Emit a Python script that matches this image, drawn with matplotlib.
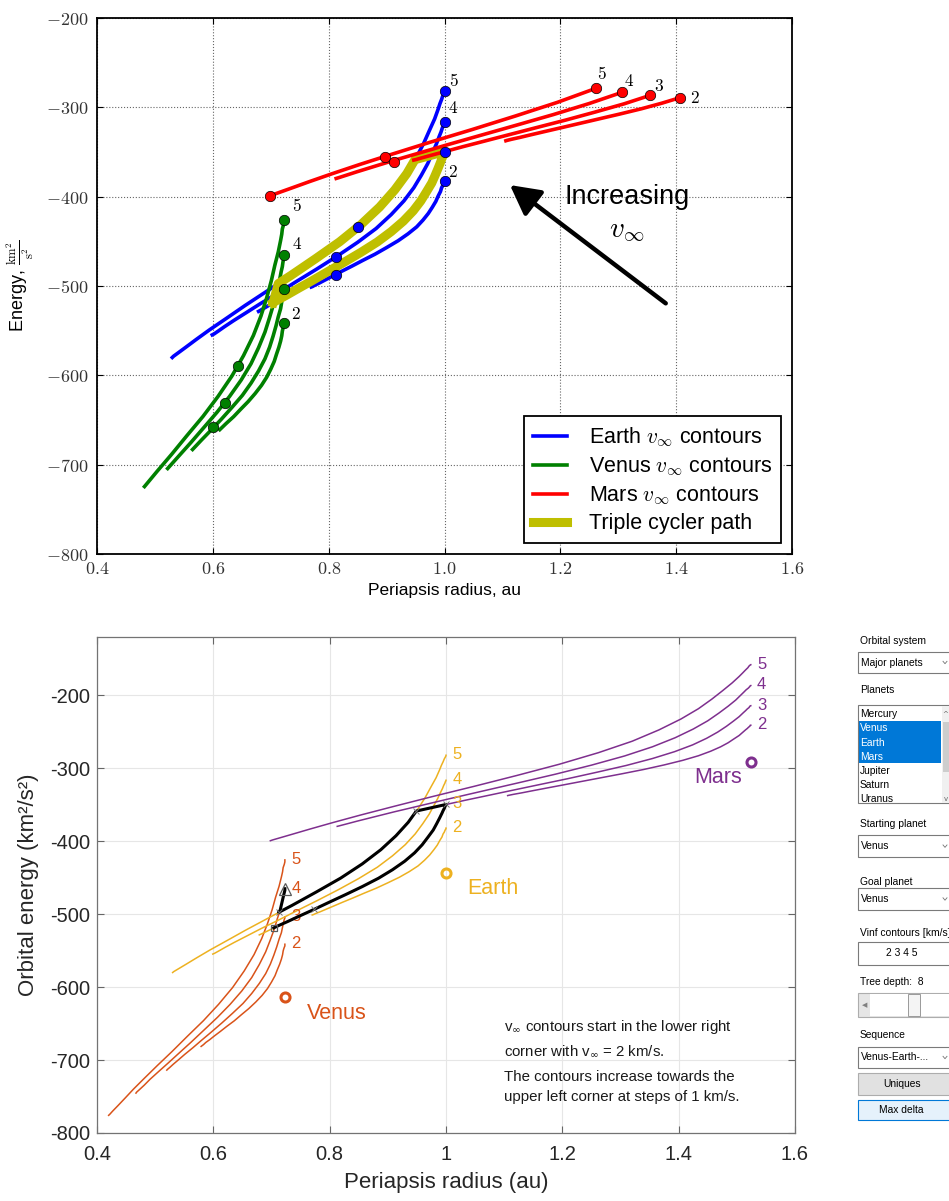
#!/usr/bin/env python
import sys
import matplotlib
matplotlib.use('Agg')
import matplotlib.pyplot as plt
from matplotlib.patches import Rectangle
from matplotlib.ticker import FixedLocator, FuncFormatter
from matplotlib.font_manager import FontProperties

plt.rcParams['mathtext.fontset'] = 'cm'

# v_inf contour levels (km/s); each contour is listed from the
# tangential flyby end (planet orbit radius) to the retrograde end.
vinf_levels = [2, 3, 4, 5]

venus_rp = [
    [0.723, 0.723, 0.723, 0.723, 0.722, 0.721, 0.720, 0.719, 0.717, 0.714, 0.710, 0.706, 0.700, 0.693,
     0.684, 0.673, 0.661, 0.648, 0.636, 0.623, 0.612, 0.602, 0.594, 0.587, 0.583, 0.580, 0.579],
    [0.723, 0.723, 0.723, 0.722, 0.721, 0.720, 0.719, 0.717, 0.713, 0.709, 0.704, 0.698, 0.690, 0.679,
     0.666, 0.651, 0.633, 0.615, 0.597, 0.580, 0.565, 0.551, 0.540, 0.531, 0.525, 0.521, 0.520],
    [0.723, 0.723, 0.723, 0.722, 0.721, 0.720, 0.718, 0.715, 0.710, 0.705, 0.698, 0.690, 0.679, 0.666,
     0.649, 0.629, 0.607, 0.584, 0.562, 0.541, 0.522, 0.505, 0.491, 0.481, 0.473, 0.468, 0.467],
    [0.723, 0.723, 0.723, 0.722, 0.720, 0.719, 0.717, 0.713, 0.707, 0.701, 0.693, 0.683, 0.670, 0.653,
     0.633, 0.609, 0.583, 0.555, 0.529, 0.504, 0.482, 0.463, 0.448, 0.436, 0.427, 0.422, 0.420],
]
venus_E = [
    [-541.2, -541.5, -542.2, -543.6, -545.4, -547.7, -550.6, -555.7, -561.7, -568.6, -576.2, -584.4, -593.1, -602.1,
     -611.2, -620.4, -629.4, -638.0, -646.2, -653.9, -660.8, -666.8, -671.9, -675.9, -678.9, -680.7, -681.3],
    [-503.7, -504.1, -505.3, -507.2, -510.0, -513.5, -517.7, -525.4, -534.4, -544.8, -556.2, -568.5, -581.5, -595.0,
     -608.7, -622.4, -635.9, -648.9, -661.3, -672.7, -683.0, -692.1, -699.7, -705.8, -710.2, -712.9, -713.8],
    [-465.1, -465.7, -467.3, -469.9, -473.6, -478.3, -483.9, -494.1, -506.2, -519.9, -535.2, -551.6, -569.0, -586.9,
     -605.2, -623.5, -641.5, -658.8, -675.3, -690.5, -704.3, -716.4, -726.5, -734.6, -740.5, -744.1, -745.3],
    [-425.6, -426.3, -428.3, -431.6, -436.2, -442.0, -449.1, -461.8, -476.9, -494.1, -513.2, -533.7, -555.4, -577.9,
     -600.7, -623.6, -646.0, -667.7, -688.3, -707.3, -724.5, -739.6, -752.4, -762.5, -769.9, -774.3, -775.8],
]
earth_rp = [
    [1.000, 1.000, 1.000, 0.999, 0.998, 0.997, 0.995, 0.993, 0.989, 0.985, 0.979, 0.972, 0.963, 0.952,
     0.937, 0.920, 0.900, 0.880, 0.859, 0.840, 0.822, 0.807, 0.794, 0.784, 0.776, 0.772, 0.770],
    [1.000, 1.000, 0.999, 0.998, 0.997, 0.995, 0.993, 0.989, 0.984, 0.978, 0.969, 0.959, 0.946, 0.929,
     0.908, 0.884, 0.856, 0.827, 0.799, 0.773, 0.749, 0.728, 0.710, 0.697, 0.687, 0.681, 0.679],
    [1.000, 1.000, 0.999, 0.998, 0.996, 0.994, 0.991, 0.986, 0.979, 0.971, 0.960, 0.947, 0.930, 0.908,
     0.882, 0.850, 0.815, 0.779, 0.744, 0.712, 0.682, 0.657, 0.636, 0.620, 0.609, 0.602, 0.599],
    [1.000, 1.000, 0.999, 0.997, 0.995, 0.992, 0.989, 0.983, 0.974, 0.964, 0.951, 0.935, 0.914, 0.888,
     0.856, 0.819, 0.777, 0.735, 0.694, 0.656, 0.623, 0.594, 0.571, 0.553, 0.540, 0.532, 0.530],
]
earth_E = [
    [-382.0, -382.2, -382.9, -384.0, -385.6, -387.6, -390.0, -394.3, -399.4, -405.3, -411.8, -418.8, -426.1, -433.8,
     -441.6, -449.3, -457.0, -464.4, -471.3, -477.8, -483.7, -488.8, -493.2, -496.6, -499.1, -500.6, -501.1],
    [-349.7, -350.1, -351.1, -352.8, -355.1, -358.1, -361.7, -368.2, -375.9, -384.7, -394.4, -404.9, -415.9, -427.4,
     -439.1, -450.7, -462.2, -473.3, -483.7, -493.5, -502.2, -510.0, -516.4, -521.6, -525.4, -527.7, -528.4],
    [-316.4, -316.9, -318.2, -320.5, -323.6, -327.6, -332.4, -341.0, -351.3, -363.0, -376.0, -390.0, -404.7, -420.0,
     -435.6, -451.1, -466.4, -481.2, -495.1, -508.1, -519.8, -530.1, -538.7, -545.6, -550.6, -553.7, -554.7],
    [-282.1, -282.7, -284.4, -287.2, -291.1, -296.1, -302.1, -312.9, -325.8, -340.4, -356.6, -374.1, -392.5, -411.6,
     -431.1, -450.5, -469.6, -488.1, -505.5, -521.7, -536.4, -549.2, -560.0, -568.7, -574.9, -578.7, -580.0],
]
mars_rp = [
    [1.524, 1.523, 1.523, 1.522, 1.520, 1.518, 1.515, 1.510, 1.504, 1.495, 1.485, 1.472, 1.455, 1.434,
     1.407, 1.375, 1.340, 1.302, 1.265, 1.230, 1.199, 1.171, 1.148, 1.130, 1.116, 1.108, 1.106],
    [1.524, 1.523, 1.522, 1.521, 1.518, 1.515, 1.511, 1.504, 1.494, 1.482, 1.467, 1.448, 1.424, 1.393,
     1.355, 1.310, 1.260, 1.209, 1.158, 1.111, 1.069, 1.032, 1.002, 0.978, 0.961, 0.951, 0.947],
    [1.524, 1.523, 1.522, 1.520, 1.516, 1.512, 1.507, 1.498, 1.485, 1.469, 1.450, 1.425, 1.394, 1.355,
     1.307, 1.250, 1.188, 1.124, 1.062, 1.005, 0.955, 0.911, 0.876, 0.848, 0.829, 0.817, 0.813],
    [1.524, 1.523, 1.521, 1.519, 1.515, 1.510, 1.504, 1.492, 1.476, 1.457, 1.434, 1.404, 1.366, 1.320,
     1.262, 1.195, 1.122, 1.048, 0.976, 0.911, 0.854, 0.806, 0.767, 0.737, 0.715, 0.702, 0.698],
]
mars_E = [
    [-240.9, -241.0, -241.6, -242.5, -243.8, -245.4, -247.3, -250.8, -255.0, -259.7, -265.0, -270.6, -276.6, -282.8,
     -289.1, -295.4, -301.6, -307.6, -313.2, -318.5, -323.2, -327.4, -330.9, -333.7, -335.7, -337.0, -337.4],
    [-214.2, -214.5, -215.3, -216.7, -218.6, -221.0, -223.9, -229.2, -235.4, -242.5, -250.4, -258.9, -267.9, -277.2,
     -286.6, -296.1, -305.3, -314.3, -322.8, -330.7, -337.8, -344.0, -349.3, -353.5, -356.5, -358.4, -359.0],
    [-186.6, -187.0, -188.1, -189.9, -192.4, -195.6, -199.5, -206.5, -214.9, -224.4, -234.9, -246.2, -258.1, -270.5,
     -283.1, -295.7, -308.1, -320.0, -331.4, -341.9, -351.4, -359.7, -366.7, -372.3, -376.3, -378.8, -379.6],
    [-158.0, -158.4, -159.8, -162.1, -165.2, -169.3, -174.1, -182.9, -193.3, -205.2, -218.3, -232.4, -247.4, -262.9,
     -278.6, -294.4, -309.8, -324.8, -338.9, -352.1, -363.9, -374.3, -383.1, -390.1, -395.2, -398.2, -399.3],
]
top_venus_n = 21        # upper plot shows venus contours only up to here
top_mars_first = 14     # ... and mars contours only from here on

# triple cycler: Venus leg, Earth (5 km/s), Mars (3 km/s), Earth (3 km/s)
venus_leg_rp = [0.723, 0.723, 0.721, 0.718, 0.715, 0.713]
venus_leg_E = [-465.1, -467.3, -473.6, -483.9, -494.1, -497.3]
cycle_rp = [0.713, 0.735, 0.777, 0.819, 0.856, 0.888, 0.914, 0.935, 0.949,
            0.961, 0.978, 1.000,
            1.000, 0.999, 0.998, 0.997, 0.995, 0.993, 0.989, 0.984, 0.978, 0.969, 0.959,
            0.946, 0.929, 0.908, 0.884, 0.856, 0.827, 0.799, 0.773, 0.749, 0.728, 0.710, 0.704]
cycle_E = [-497.3, -488.1, -469.6, -450.5, -431.1, -411.6, -392.5, -374.1, -358.6,
           -356.5, -353.5, -349.6,
           -350.1, -351.1, -352.8, -355.1, -358.1, -361.7, -368.2, -375.9, -384.7, -394.4, -404.9,
           -415.9, -427.4, -439.1, -450.7, -462.2, -473.3, -483.7, -493.5, -502.2, -510.0, -516.4, -518.7]
junction_rp = [0.713, 0.949, 1.000, 0.773]
junction_E = [-497.3, -358.6, -349.6, -493.5]

# extra markers in the upper plot
earth_dot_rp = [0.813, 0.813, 0.851]
earth_dot_E = [-467.2, -487.7, -433.6]
venus_dot_rp = [0.644, 0.621, 0.601]
venus_dot_E = [-589.2, -631.4, -657.5]
mars_dot_rp = [0.898, 0.913]
mars_dot_E = [-355.2, -360.8]

planet_names = ['Venus', 'Earth', 'Mars']
planet_rp = [0.723, 1.0, 1.524]
planet_E = [-613.2, -443.6, -291.1]

note_lines = [r'v$_{\infty}$ contours start in the lower right',
              r'corner with v$_{\infty}$ = 2 km/s.',
              'The contours increase towards the',
              'upper left corner at steps of 1 km/s.']

W, H = 949, 1201
SANS = 'Liberation Sans'


def box(l, t, r, b):
    """pixel box (left, top, right, bottom) -> figure fraction"""
    return [l / W, 1 - b / H, (r - l) / W, (b - t) / H]


def draw_top(fig):
    ax = fig.add_axes(box(97, 18, 792, 554))
    blue, green, red, olive = (0, 0, 1), (0, 0.5, 0), (1, 0, 0), (0.75, 0.75, 0)
    lw = 2.6
    for i in range(4):
        h_e, = ax.plot(earth_rp[i], earth_E[i], color=blue, lw=lw, zorder=2)
        h_v, = ax.plot(venus_rp[i][:top_venus_n], venus_E[i][:top_venus_n],
                       color=green, lw=lw, zorder=2)
    h_c, = ax.plot([cycle_rp[-1]] + cycle_rp, [cycle_E[-1]] + cycle_E,
                   color=olive, lw=6.5, zorder=3)
    for i in range(4):
        h_m, = ax.plot(mars_rp[i][top_mars_first:], mars_E[i][top_mars_first:],
                       color=red, lw=lw, zorder=4)

    dot = dict(ls='none', marker='o', ms=7.5, mec='k', mew=0.5, zorder=5)
    ax.plot([r[0] for r in earth_rp] + earth_dot_rp,
            [e[0] for e in earth_E] + earth_dot_E, color=blue, **dot)
    ax.plot([r[0] for r in venus_rp] + venus_dot_rp,
            [e[0] for e in venus_E] + venus_dot_E, color=green, **dot)
    ax.plot([r[top_mars_first] for r in mars_rp] + [mars_rp[3][-1]] + mars_dot_rp,
            [e[top_mars_first] for e in mars_E] + [mars_E[3][-1]] + mars_dot_E,
            color=red, **dot)

    # contour level labels
    offs_e = {2: (5.8, 6.4), 4: (6.5, 10), 5: (6.7, 7.4)}
    offs_v = {2: (8.6, 6), 4: (9.1, 7.7), 5: (9.1, 9.6)}
    offs_m = {2: (10.6, 0), 3: (6.5, 6.8), 4: (5, 8), 5: (4.3, 10.2)}
    for i, v in enumerate(vinf_levels):
        for offs, xs, ys, k in [(offs_e, earth_rp, earth_E, 0),
                                (offs_v, venus_rp, venus_E, 0),
                                (offs_m, mars_rp, mars_E, top_mars_first)]:
            if v in offs:
                ax.annotate('$%d$' % v, (xs[i][k], ys[i][k]), xytext=offs[v],
                            textcoords='offset points', ha='center',
                            va='center', fontsize=12.5, zorder=6)

    ax.annotate('', xy=(1.113, -387), xytext=(1.382, -519.4),
                arrowprops=dict(arrowstyle='-|>,head_length=0.45,head_width=0.24',
                                lw=3.2, color='k', mutation_scale=40,
                                shrinkA=0, shrinkB=0))
    ax.text(1.3145, -400, 'Increasing', fontsize=19.5, family=SANS,
            ha='center', va='center')
    ax.text(1.3145, -437, r'$v_\infty$', fontsize=21, ha='center', va='center')

    ax.set_xlim(0.4, 1.6)
    ax.set_ylim(-800, -200)
    ax.xaxis.set_major_locator(FixedLocator([0.4, 0.6, 0.8, 1.0, 1.2, 1.4, 1.6]))
    ax.yaxis.set_major_locator(FixedLocator(range(-800, -199, 100)))
    ax.xaxis.set_major_formatter(FuncFormatter(lambda v, p: '$%.1f$' % v))
    ax.yaxis.set_major_formatter(FuncFormatter(lambda v, p: '$%d$' % v))
    ax.tick_params(direction='in', top=True, right=True, length=4.5, width=0.8,
                   labelsize=13, labelcolor='0.2')
    ax.tick_params(axis='y', pad=6.5)
    ax.tick_params(axis='x', pad=4)
    ax.grid(True, ls=':', color='0.4', lw=0.8)
    for s in ax.spines.values():
        s.set_linewidth(1.3)

    ax.set_xlabel('Periapsis radius, au', family=SANS, fontsize=12.5)
    ax.xaxis.set_label_coords(0.5, -0.055)
    ax.set_ylabel(r'Energy, $\frac{\mathrm{km}^2}{\mathrm{s}^2}$', family=SANS,
                  fontsize=13)
    ax.yaxis.set_label_coords(-0.088, 0.5)

    leg = ax.legend([h_e, h_v, h_m, h_c],
                    [r'Earth $v_\infty$ contours', r'Venus $v_\infty$ contours',
                     r'Mars $v_\infty$ contours', 'Triple cycler path'],
                    loc='lower right', bbox_to_anchor=(0.984, 0.0205),
                    borderaxespad=0, fancybox=False, framealpha=1,
                    edgecolor='k', prop=FontProperties(family=SANS, size=15.5),
                    handlelength=1.6, handletextpad=1.0, labelspacing=0.3,
                    borderpad=0.4)
    leg.get_frame().set_linewidth(1.3)
    leg.set_zorder(10)


def draw_bottom(fig):
    ax = fig.add_axes(box(97, 637, 795, 1133))
    venus_c, earth_c, mars_c = '#D95319', '#EDB120', '#7E2F8E'
    colors = [venus_c, earth_c, mars_c]
    curves = [(venus_rp, venus_E), (earth_rp, earth_E), (mars_rp, mars_E)]
    for (xs, ys), c in zip(curves, colors):
        for i, v in enumerate(vinf_levels):
            ax.plot(xs[i], ys[i], color=c, lw=1.1, zorder=2)
            ax.annotate(str(v), (xs[i][0], ys[i][0]), xytext=(4.5, 0.5),
                        textcoords='offset points', ha='left', va='center',
                        color=c, fontsize=12, family=SANS)

    ax.plot(venus_leg_rp, venus_leg_E, color='k', lw=2.2, zorder=3)
    ax.plot(cycle_rp, cycle_E, color='k', lw=2.2, zorder=3)
    ax.plot(venus_leg_rp[:1], venus_leg_E[:1], ls='none', marker='^', ms=8,
            mfc='none', mec='0.35', mew=0.9, zorder=4)
    ax.plot(cycle_rp[-1:], cycle_E[-1:], ls='none', marker='s', ms=5,
            mfc='none', mec='0.35', mew=0.9, zorder=4)
    ax.plot(junction_rp, junction_E, ls='none', marker='x', ms=4,
            mec='0.45', mew=0.7, zorder=4)

    name_offs = [(15.7, -12.2, 'left'), (15.1, -11.4, 'left'), (-6.3, -11.5, 'right')]
    for name, x, y, c, (dx, dy, ha) in zip(planet_names, planet_rp, planet_E,
                                           colors, name_offs):
        ax.plot([x], [y], ls='none', marker='o', ms=6.5, mfc='none', mec=c,
                mew=2.2, zorder=4)
        ax.annotate(name, (x, y), xytext=(dx, dy), textcoords='offset points',
                    ha=ha, va='center', color=c, fontsize=15.5, family=SANS)

    for line, y in zip(note_lines, [-654.2, -688.5, -722.8, -750.2]):
        ax.text(1.100, y, line, fontsize=10.8, family=SANS, color='0.1',
                va='center', ha='left', math_fontfamily='dejavusans')

    ax.set_xlim(0.4, 1.6)
    ax.set_ylim(-800, -120)
    ax.xaxis.set_major_locator(FixedLocator([0.4, 0.6, 0.8, 1.0, 1.2, 1.4, 1.6]))
    ax.yaxis.set_major_locator(FixedLocator(range(-800, -199, 100)))
    ax.xaxis.set_major_formatter(FuncFormatter(lambda v, p: '%g' % round(v, 1)))
    ax.yaxis.set_major_formatter(FuncFormatter(lambda v, p: '%d' % v))
    ax.tick_params(direction='in', top=True, right=True, length=5, width=0.8,
                   color='0.4', labelsize=14.5, labelcolor='0.15')
    for lbl in ax.get_xticklabels() + ax.get_yticklabels():
        lbl.set_family(SANS)
    ax.tick_params(axis='x', pad=9)
    ax.tick_params(axis='y', pad=5)
    ax.grid(True, color='0.9', lw=0.8)
    ax.set_axisbelow(True)
    for s in ax.spines.values():
        s.set_color('0.45')
        s.set_linewidth(0.9)

    ax.set_xlabel('Periapsis radius (au)', family=SANS, fontsize=16, color='0.15')
    ax.xaxis.set_label_coords(0.5, -0.078)
    ax.set_ylabel('Orbital energy (km²/s²)', family=SANS, fontsize=16, color='0.15')
    ax.yaxis.set_label_coords(-0.083, 0.5)


def draw_panel(fig):
    # the GUI controls next to the lower plot, in pixel units
    gx = fig.add_axes(box(850, 620, 949, 1130))
    gx.set_xlim(850, 949)
    gx.set_ylim(1130, 620)
    gx.axis('off')
    txt = dict(family=SANS, fontsize=7.4, va='center', color='k')
    edge = '#7a7a7a'

    def field(top, bottom, label, fc='white', ec=edge, chevron=True, center=False):
        gx.add_patch(Rectangle((858.5, top), 100, bottom - top, fc=fc, ec=ec, lw=0.8))
        ym = (top + bottom) / 2
        if center:
            gx.text(901.7, ym, label, ha='center', **txt)
        else:
            gx.text(861, ym, label, ha='left', **txt)
        if chevron:
            gx.plot([943, 945, 947], [ym - 1.2, ym + 1.2, ym - 1.2], color='0.45', lw=0.6)

    gx.text(860, 641, 'Orbital system', **txt)
    field(651.7, 673.3, 'Major planets')

    gx.text(860, 690, 'Planets', **txt)
    gx.add_patch(Rectangle((858.5, 705), 100, 98.3, fc='white', ec=edge, lw=0.8))
    gx.add_patch(Rectangle((859, 720.7), 82.5, 42.6, fc='#0078D7', ec='none'))
    gx.add_patch(Rectangle((941.7, 705.5), 8, 97.5, fc='#f0f0f0', ec='none'))
    gx.add_patch(Rectangle((942.6, 721.7), 6.5, 50, fc='#cdcdcd', ec='none'))
    gx.text(945.5, 714, '^', ha='center', family='DejaVu Sans', fontsize=5, va='center', color='0.4')
    gx.text(945.5, 799, 'v', ha='center', family='DejaVu Sans', fontsize=5, va='center', color='0.4')
    items = ['Mercury', 'Venus', 'Earth', 'Mars', 'Jupiter', 'Saturn', 'Uranus']
    for k, it in enumerate(items):
        c = 'white' if it in ('Venus', 'Earth', 'Mars') else 'k'
        gx.text(860, 714.3 + 14.1 * k, it, family=SANS, fontsize=7.4, va='center', color=c)

    gx.text(860, 824, 'Starting planet', **txt)
    field(835, 857.3, 'Venus')
    gx.text(860, 882, 'Goal planet', **txt)
    field(888, 910, 'Venus')
    gx.text(860, 933.3, 'Vinf contours [km/s]', **txt)
    field(941.7, 965, '2 3 4 5', chevron=False, center=True)
    gx.text(860, 981.7, 'Tree depth:  8', **txt)
    gx.add_patch(Rectangle((858.5, 993), 100, 23.7, fc='#e6e6e6', ec='#adadad', lw=0.8))
    gx.add_patch(Rectangle((870, 994), 90, 21.7, fc='white', ec='none'))
    gx.add_patch(Rectangle((908, 994), 12, 21.7, fc='#f4f4f4', ec='#9a9a9a', lw=0.7))
    gx.text(864.5, 1005, '◀', ha='center', va='center', family='DejaVu Sans',
            fontsize=5, color='0.5')
    gx.text(860, 1035, 'Sequence', **txt)
    field(1046.7, 1068.3, 'Venus-Earth-...')
    field(1073.3, 1095, 'Uniques', fc='#e1e1e1', ec='#adadad', chevron=False, center=True)
    field(1100, 1120, 'Max delta', fc='#e5f1fb', ec='#0078D7', chevron=False, center=True)


def create_figure(outfile):
    fig = plt.figure(figsize=(W / 100.0, H / 100.0), dpi=100)
    draw_top(fig)
    draw_bottom(fig)
    draw_panel(fig)
    fig.savefig(outfile, dpi=100)


def main(argv=None):
    create_figure('out.png')


if __name__ == "__main__":
    sys.exit(main())
